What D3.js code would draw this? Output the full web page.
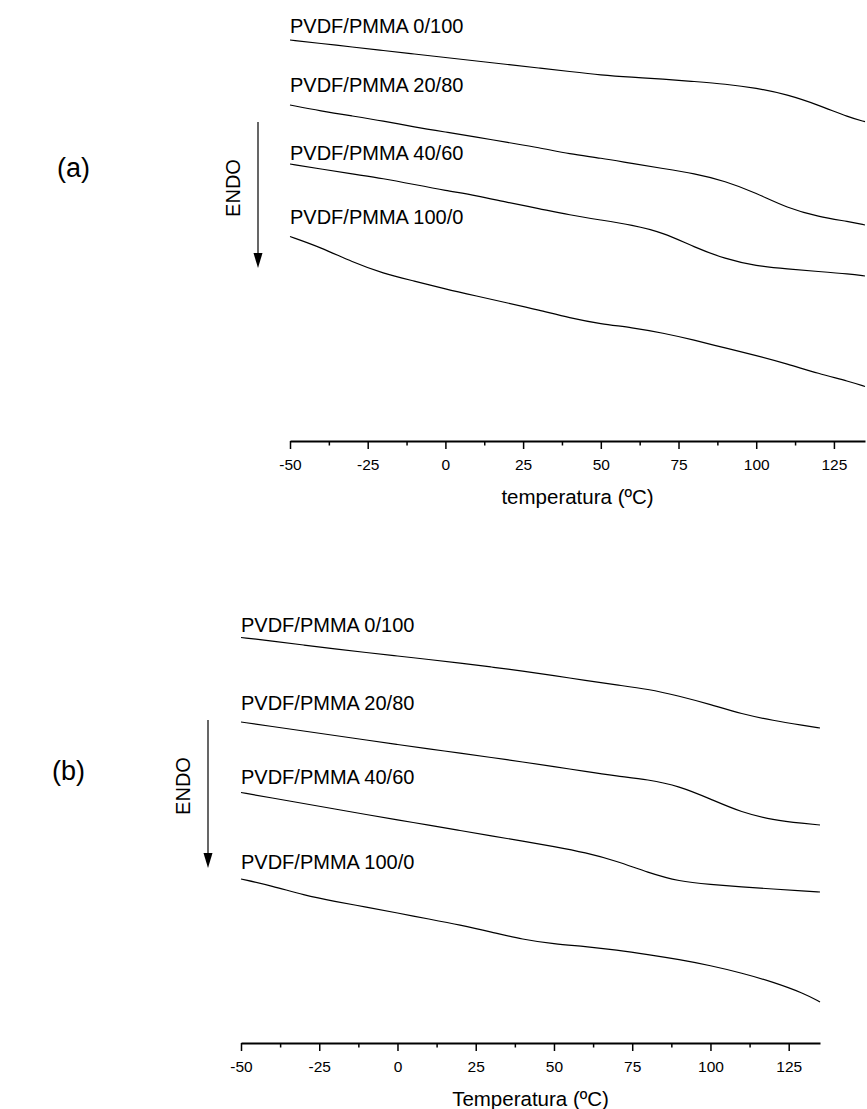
<!DOCTYPE html>
<html lang="pt">
<head>
<meta charset="UTF-8">
<title>DSC PVDF/PMMA</title>
<script src="https://d3js.org/d3.v7.min.js"></script>
<style>
    body { margin: 0; background: #fff; }
    svg { display: block; font-family: "Liberation Sans", Arial, Helvetica, sans-serif; }
</style>
</head>
<body>
<svg width="867" height="1109"></svg>
<script>
    // temperature grid (ºC) shared by every curve
    const temps = [-50, -40, -30, -20, -10, 0, 10, 20, 30, 40, 50, 60, 70, 80, 90, 100, 110, 120, 130, 135];
    const seriesNames = ["PVDF/PMMA 0/100", "PVDF/PMMA 20/80", "PVDF/PMMA 40/60", "PVDF/PMMA 100/0"];
    const majorTicks = [-50, -25, 0, 25, 50, 75, 100, 125];
    const minorTicks = [-37.5, -12.5, 12.5, 37.5, 62.5, 87.5, 112.5];

    // heat flow, arbitrary units (curves are offset), panel (a)
    const a_0_100  = [40.1, 39.75, 39.4, 39.05, 38.7, 38.35, 38.0, 37.65, 37.3, 36.95, 36.6, 36.38, 36.2, 35.95, 35.7, 35.3, 34.65, 33.6, 32.35, 31.93];
    const a_20_80  = [33.6, 33.0, 32.5, 32.0, 31.4, 30.9, 30.4, 29.85, 29.35, 28.7, 28.3, 27.75, 27.25, 26.75, 26.0, 24.8, 23.3, 22.43, 21.93, 21.6];
    const a_40_60  = [27.7, 27.2, 26.7, 26.25, 25.65, 25.05, 24.55, 23.85, 23.25, 22.6, 22.1, 21.6, 20.85, 19.4, 18.2, 17.5, 17.2, 16.95, 16.7, 16.5];
    const a_100_0  = [20.45, 19.35, 17.9, 16.75, 16.0, 15.2, 14.5, 13.8, 13.1, 12.3, 11.7, 11.35, 10.8, 10.1, 9.3, 8.55, 7.7, 6.75, 5.95, 5.45];
    const a_labelLevels = [40.8, 34.9, 28.1, 21.7];

    // panel (b)
    const b_0_100  = [40.55, 40.2, 39.8, 39.4, 39.05, 38.7, 38.35, 38.0, 37.6, 37.2, 36.75, 36.25, 35.8, 35.4, 34.7, 33.85, 32.9, 32.25, 31.75, 31.5];
    const b_20_80  = [32.1, 31.65, 31.2, 30.75, 30.3, 29.85, 29.4, 29.0, 28.55, 28.1, 27.65, 27.15, 26.7, 26.35, 25.7, 24.4, 23.05, 22.3, 21.95, 21.8];
    const b_40_60  = [25.05, 24.5, 23.95, 23.4, 22.85, 22.3, 21.8, 21.25, 20.7, 20.2, 19.65, 19.05, 18.2, 17.05, 16.15, 15.85, 15.6, 15.4, 15.2, 15.1];
    const b_100_0  = [16.4, 15.7, 14.8, 14.15, 13.6, 13.0, 12.4, 11.8, 11.1, 10.35, 9.9, 9.65, 9.3, 8.85, 8.35, 7.75, 7.0, 6.1, 4.95, 4.1];
    const b_labelLevels = [41.1, 33.3, 25.9, 17.4];

    const svg = d3.select("svg");

    function drawPanel(p) {
        const x = d3.scaleLinear().domain([-50, 135]).range([p.left, p.right]);
        const y = d3.scaleLinear().domain([0, 42]).range([p.axisY, p.axisY - 420]);
        const g = svg.append("g");

        const line = d3.line()
            .x((d, i) => x(temps[i]))
            .y(d => y(d))
            .curve(d3.curveBasis);

        g.selectAll(".curve")
            .data(p.series)
            .enter().append("path")
            .attr("class", "curve")
            .attr("d", line)
            .attr("fill", "none")
            .attr("stroke", "#000")
            .attr("stroke-width", 1.2);

        g.selectAll(".lbl")
            .data(seriesNames)
            .enter().append("text")
            .attr("class", "lbl")
            .attr("x", x(-50))
            .attr("y", (d, i) => y(p.labels[i]))
            .attr("font-size", 20)
            .text(d => d);

        // minor ticks first, then major axis with labels
        g.append("g")
            .attr("transform", `translate(0,${p.axisY})`)
            .call(d3.axisBottom(x).tickValues(minorTicks).tickSize(4.5).tickFormat(""))
            .call(a => a.select(".domain").remove())
            .selectAll("line").attr("stroke-width", 1.5);

        const ax = g.append("g")
            .attr("transform", `translate(0,${p.axisY})`)
            .call(d3.axisBottom(x).tickValues(majorTicks).tickSizeInner(8).tickSizeOuter(0).tickPadding(10)
                .tickFormat(d => String(d)));
        ax.select(".domain").attr("stroke-width", 1.8);
        ax.selectAll(".tick line").attr("stroke-width", 1.5);
        ax.selectAll(".tick text")
            .attr("font-size", 15.5)
            .attr("font-family", "Liberation Sans, Arial, sans-serif")
            .attr("fill", "#000");

        g.append("text")
            .attr("x", (p.left + p.right) / 2)
            .attr("y", p.axisY + 63)
            .attr("text-anchor", "middle")
            .attr("font-size", 20.5)
            .text(p.title);

        g.append("text")
            .attr("x", p.tagX)
            .attr("y", p.tagY)
            .attr("font-size", 27)
            .text(p.tag);

        // ENDO arrow
        g.append("line")
            .attr("x1", p.arrowX).attr("x2", p.arrowX)
            .attr("y1", p.arrowTop).attr("y2", p.arrowBottom - 14)
            .attr("stroke", "#000").attr("stroke-width", 1.2);
        g.append("path")
            .attr("d", `M${p.arrowX - 4.5},${p.arrowBottom - 15}L${p.arrowX + 4.5},${p.arrowBottom - 15}L${p.arrowX},${p.arrowBottom}Z`)
            .attr("fill", "#000");
        g.append("text")
            .attr("transform", `translate(${p.arrowX - 18},${p.arrowTop + 66}) rotate(-90)`)
            .attr("text-anchor", "middle")
            .attr("font-size", 20)
            .text("ENDO");
    }

    drawPanel({
        left: 290, right: 865, axisY: 441,
        series: [a_0_100, a_20_80, a_40_60, a_100_0], labels: a_labelLevels,
        title: "temperatura (ºC)", tag: "(a)", tagX: 57, tagY: 177,
        arrowX: 258, arrowTop: 122, arrowBottom: 268
    });

    drawPanel({
        left: 241, right: 820, axisY: 1043,
        series: [b_0_100, b_20_80, b_40_60, b_100_0], labels: b_labelLevels,
        title: "Temperatura (ºC)", tag: "(b)", tagX: 52, tagY: 780,
        arrowX: 208, arrowTop: 720, arrowBottom: 868
    });
</script>
</body>
</html>
